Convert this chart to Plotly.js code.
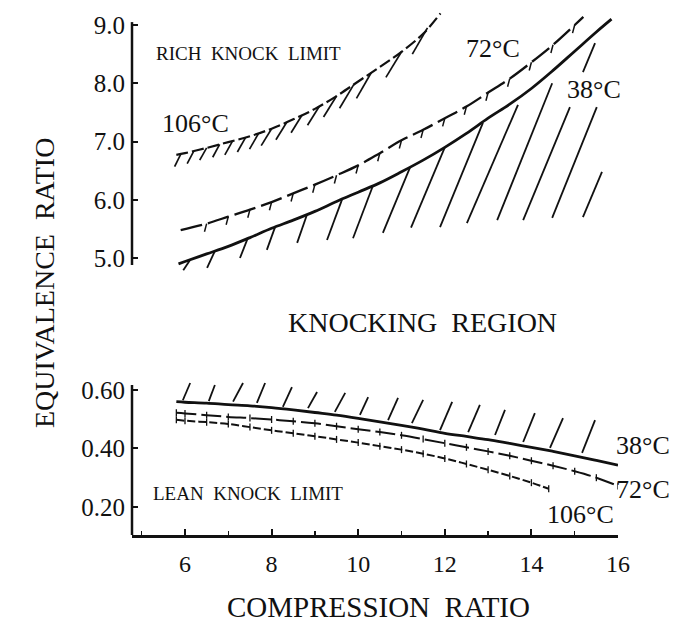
<!DOCTYPE html>
<html>
<head>
<meta charset="utf-8">
<script src="https://cdn.plot.ly/plotly-3.0.1.min.js"></script>
<style>html,body{margin:0;padding:0;background:#fff;}#chart{width:677px;height:622px;}</style>
</head>
<body>
<div id="chart"></div>
<script>
// ---------- data ----------
// Upper panel (rich knock limit), equivalence ratio vs compression ratio
const cr38U = [5.85, 6, 6.5, 7, 7.5, 8, 8.5, 9, 9.5, 10, 10.5, 11, 11.5, 12, 12.5, 13, 13.5, 14, 14.5, 15, 15.5, 15.85];
const er38U = [4.90, 4.94, 5.07, 5.20, 5.35, 5.51, 5.65, 5.80, 5.97, 6.13, 6.29, 6.48, 6.68, 6.90, 7.14, 7.40, 7.64, 7.91, 8.22, 8.55, 8.88, 9.10];
const cr72U = [5.9, 6.5, 7, 7.5, 8, 8.5, 9, 9.5, 10, 10.5, 11, 11.5, 12, 12.5, 13, 13.5, 14, 14.5, 15, 15.2];
const er72U = [5.48, 5.59, 5.71, 5.83, 5.96, 6.11, 6.26, 6.42, 6.59, 6.80, 7.02, 7.20, 7.40, 7.60, 7.84, 8.08, 8.36, 8.66, 9.00, 9.14];
const cr106U = [5.8, 6, 6.5, 7, 7.5, 8, 8.5, 9, 9.5, 10, 10.5, 11, 11.5, 11.9];
const er106U = [6.77, 6.80, 6.89, 6.99, 7.09, 7.22, 7.38, 7.56, 7.78, 8.03, 8.28, 8.54, 8.85, 9.20];

// Lower panel (lean knock limit)
const cr38L = [5.8, 6, 6.5, 7, 7.5, 8, 8.5, 9, 9.5, 10, 10.5, 11, 11.5, 12, 12.5, 13, 13.5, 14, 14.5, 15, 15.5, 16];
const er38L = [0.560, 0.558, 0.555, 0.550, 0.546, 0.540, 0.532, 0.523, 0.514, 0.503, 0.491, 0.479, 0.466, 0.452, 0.441, 0.430, 0.417, 0.404, 0.390, 0.375, 0.359, 0.343];
const cr72L = [5.8, 6, 6.5, 7, 7.5, 8, 8.5, 9, 9.5, 10, 10.5, 11, 11.5, 12, 12.5, 13, 13.5, 14, 14.5, 15, 15.5, 16];
const er72L = [0.522, 0.520, 0.514, 0.508, 0.504, 0.499, 0.493, 0.486, 0.476, 0.466, 0.456, 0.445, 0.432, 0.418, 0.404, 0.390, 0.375, 0.358, 0.341, 0.322, 0.300, 0.272];
const cr106L = [5.8, 6, 6.5, 7, 7.5, 8, 8.5, 9, 9.5, 10, 10.5, 11, 11.5, 12, 12.5, 13, 13.5, 14, 14.4];
const er106L = [0.498, 0.495, 0.490, 0.484, 0.473, 0.462, 0.452, 0.442, 0.431, 0.420, 0.408, 0.396, 0.382, 0.366, 0.347, 0.327, 0.306, 0.283, 0.262];

// Hatch strokes (start on limit curve -> end in the hatched side)
const h38U_x0 = [6.12, 6.69, 7.45, 8.08, 8.82, 9.63, 10.34, 11.20, 12.00, 12.88, 13.69, 14.48, 14.89, 15.51, 15.63, 15.47];
const h38U_y0 = [4.97, 5.12, 5.34, 5.53, 5.75, 6.01, 6.24, 6.56, 6.90, 7.32, 7.63, 8.00, 7.59, 7.59, 6.48, 8.69];
const h38U_x1 = [5.96, 6.51, 7.27, 7.89, 8.59, 9.28, 9.88, 10.57, 11.22, 11.89, 12.51, 13.21, 13.81, 14.48, 15.19, 15.19];
const h38U_y1 = [4.79, 4.83, 5.00, 5.14, 5.26, 5.31, 5.34, 5.43, 5.52, 5.53, 5.60, 5.65, 5.65, 5.69, 5.70, 8.19];

const h106U_x0 = [5.9, 6.2, 6.5, 6.8, 7.1, 7.4, 7.7, 8.0, 8.35, 8.7, 9.1, 9.5, 9.9, 10.3, 11.0, 11.6];
const h106U_y0 = [6.78, 6.83, 6.89, 6.95, 7.01, 7.07, 7.14, 7.22, 7.33, 7.45, 7.60, 7.78, 7.98, 8.18, 8.54, 8.95];
const h106U_x1 = [5.76, 6.05, 6.34, 6.64, 6.92, 7.21, 7.49, 7.76, 8.10, 8.45, 8.83, 9.20, 9.57, 9.96, 10.64, 11.25];
const h106U_y1 = [6.57, 6.62, 6.68, 6.73, 6.77, 6.82, 6.87, 6.93, 7.03, 7.15, 7.28, 7.42, 7.57, 7.74, 8.10, 8.50];

const h38L_x0 = [5.95, 6.55, 7.11, 7.66, 8.26, 8.84, 9.46, 10.04, 10.69, 11.24, 11.89, 12.54, 13.16, 13.81, 14.43, 15.17];
const h38L_y0 = [0.565, 0.562, 0.560, 0.556, 0.542, 0.538, 0.525, 0.515, 0.497, 0.487, 0.463, 0.456, 0.446, 0.422, 0.402, 0.385];
const h38L_x1 = [6.12, 6.69, 7.34, 7.85, 8.47, 9.05, 9.70, 10.23, 10.92, 11.50, 12.17, 12.81, 13.39, 14.08, 14.73, 15.47];
const h38L_y1 = [0.624, 0.617, 0.624, 0.624, 0.610, 0.593, 0.590, 0.576, 0.573, 0.566, 0.559, 0.549, 0.532, 0.521, 0.504, 0.497];

const xTickVals = [6, 8, 10, 12, 14, 16];
const yUpperTicks = [5, 6, 7, 8, 9];
const yUpperText = ['5.0', '6.0', '7.0', '8.0', '9.0'];
const yLowerTicks = [0.2, 0.4, 0.6];
const yLowerText = ['0.20', '0.40', '0.60'];

// ---------- helpers ----------
function segs(x0, y0, x1, y1) {
  const X = [], Y = [];
  for (let i = 0; i < x0.length; i++) { X.push(x0[i], x1[i], null); Y.push(y0[i], y1[i], null); }
  return {x: X, y: Y};
}
function hangers(xs, ys, dx, dy) {
  const X = [], Y = [];
  for (let i = 1; i < xs.length - 1; i++) { X.push(xs[i], xs[i] + dx, null); Y.push(ys[i], ys[i] + dy, null); }
  return {x: X, y: Y};
}

const INK = '#111';
const FONT = 'Liberation Serif, Times New Roman, serif';

const h38U = segs(h38U_x0, h38U_y0, h38U_x1, h38U_y1);
const h106U = segs(h106U_x0, h106U_y0, h106U_x1, h106U_y1);
const h38L = segs(h38L_x0, h38L_y0, h38L_x1, h38L_y1);
const hang72U = hangers(cr72U, er72U, -0.05, -0.14);

const traces = [
  {x: cr38U, y: er38U, yaxis: 'y2', mode: 'lines', line: {color: INK, width: 2.8, shape: 'spline'}},
  {x: cr72U, y: er72U, yaxis: 'y2', mode: 'lines', line: {color: INK, width: 2.3, dash: '22px,6px', shape: 'spline'}},
  {x: hang72U.x, y: hang72U.y, yaxis: 'y2', mode: 'lines', line: {color: INK, width: 1.5}},
  {x: cr106U, y: er106U, yaxis: 'y2', mode: 'lines', line: {color: INK, width: 2.2, dash: '12px,4px', shape: 'spline'}},
  {x: h106U.x, y: h106U.y, yaxis: 'y2', mode: 'lines', line: {color: INK, width: 1.7}},
  {x: h38U.x, y: h38U.y, yaxis: 'y2', mode: 'lines', line: {color: INK, width: 1.8}},
  {x: cr38L, y: er38L, yaxis: 'y', mode: 'lines', line: {color: INK, width: 2.8, shape: 'spline'}},
  {x: cr72L, y: er72L, yaxis: 'y', mode: 'lines+markers', line: {color: INK, width: 2.0, dash: '20px,5px', shape: 'spline'},
   marker: {symbol: 'line-ns', size: 5, line: {color: INK, width: 1.3}}},
  {x: cr106L, y: er106L, yaxis: 'y', mode: 'lines+markers', line: {color: INK, width: 2.0, dash: '8px,3px', shape: 'spline'},
   marker: {symbol: 'line-ns', size: 5, line: {color: INK, width: 1.3}}},
  {x: h38L.x, y: h38L.y, yaxis: 'y', mode: 'lines', line: {color: INK, width: 1.8}}
];

// plot area: x 132..618 px, y 8..535 px
const L = 132, R = 618, T = 8, B = 535;
const P = px => (px - L) / (R - L);
const Q = py => (B - py) / (B - T);

function ann(text, px, py, size, extra) {
  return Object.assign({text: text, xref: 'paper', yref: 'paper', x: P(px), y: Q(py),
    xanchor: 'center', yanchor: 'middle', showarrow: false,
    font: {family: FONT, size: size, color: INK}}, extra || {});
}

const layout = {
  width: 677, height: 622,
  margin: {l: L, r: 677 - R, t: T, b: 622 - B, pad: 0},
  paper_bgcolor: '#fff', plot_bgcolor: 'rgba(0,0,0,0)',
  showlegend: false, hovermode: false,
  xaxis: {
    range: [4.776, 16.0], domain: [0, 1], anchor: 'y',
    showline: true, linewidth: 2.5, linecolor: INK, mirror: false,
    showgrid: false, zeroline: false,
    ticks: 'inside', tickvals: xTickVals, ticktext: xTickVals.map(String), ticklen: 6, tickwidth: 2, tickcolor: INK,
    minor: {ticks: 'inside', dtick: 1, tick0: 0, ticklen: 4, tickwidth: 1.5, tickcolor: INK, showgrid: false},
    ticklabelstandoff: 6,
    tickfont: {family: FONT, size: 24, color: INK}
  },
  yaxis: {
    domain: [0, Q(380)], range: [0.104, 0.6 + 10 / 292.5], anchor: 'x',
    showline: false, showgrid: false, zeroline: false,
    ticks: 'inside', tickvals: yLowerTicks, ticktext: yLowerText, ticklen: 6, tickwidth: 2, tickcolor: INK,
    ticklabelstandoff: 6,
    tickfont: {family: FONT, size: 25, color: INK}
  },
  yaxis2: {
    domain: [Q(280), 1], range: [9 - 255 / 58.25, 9 + 17 / 58.25], anchor: 'x',
    showline: false, showgrid: false, zeroline: false,
    ticks: 'inside', tickvals: yUpperTicks, ticktext: yUpperText, ticklen: 6, tickwidth: 2, tickcolor: INK,
    ticklabelstandoff: 6,
    tickfont: {family: FONT, size: 25, color: INK}
  },
  shapes: [
    {type: 'line', xref: 'paper', x0: 0, x1: 0, yref: 'y2', y0: 4.88, y1: 9.05, line: {color: INK, width: 2.5}},
    {type: 'line', xref: 'paper', x0: 0, x1: 0, yref: 'y', y0: 0.104, y1: 0.617, line: {color: INK, width: 2.5}}
  ],
  annotations: [
    ann('RICH&nbsp;&nbsp;KNOCK&nbsp;&nbsp;LIMIT', 248, 53, 19),
    ann('LEAN&nbsp;&nbsp;KNOCK&nbsp;&nbsp;LIMIT', 248, 493, 19),
    ann('KNOCKING&nbsp;&nbsp;REGION', 422, 322, 28),
    ann('106°C', 195, 124, 26),
    ann('72°C', 493, 49, 26),
    ann('38°C', 594, 89, 26),
    ann('38°C', 643, 445, 26),
    ann('72°C', 643, 489, 26),
    ann('106°C', 580, 514, 26),
    ann('EQUIVALENCE&nbsp;&nbsp;RATIO', 44, 283, 28, {textangle: -90}),
    ann('COMPRESSION&nbsp;&nbsp;RATIO', 378, 607, 29)
  ]
};

Plotly.newPlot('chart', traces, layout, {staticPlot: true, displayModeBar: false});
</script>
</body>
</html>
